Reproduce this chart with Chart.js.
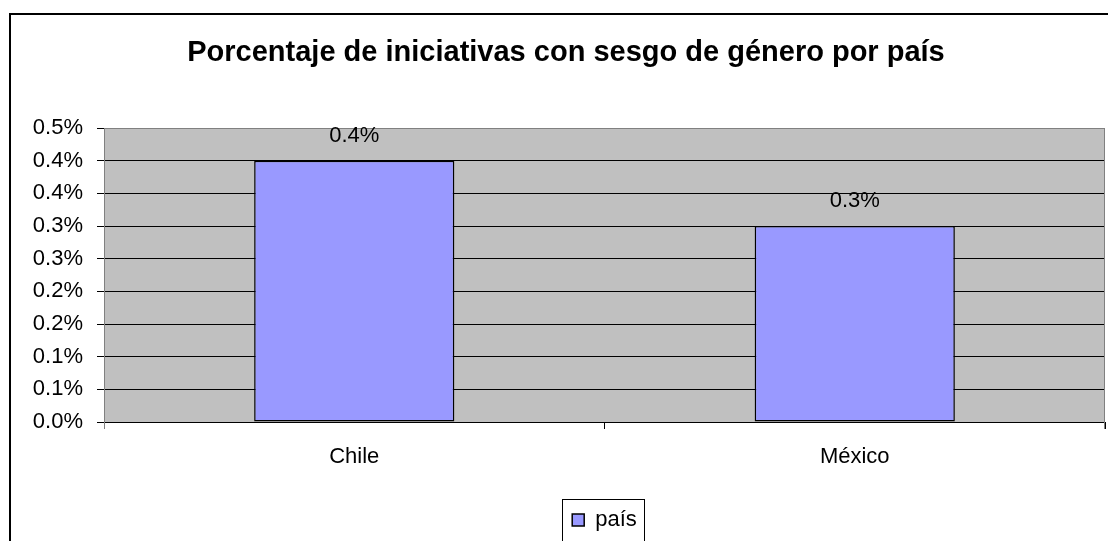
<!DOCTYPE html>
<html>
    <head>
        <meta charset="UTF-8" />
        <title>Porcentaje de iniciativas</title>
        <script src="https://cdn.jsdelivr.net/npm/chart.js@4.4.2/dist/chart.umd.min.js"></script>
        <style>
            body {
                margin: 0;
                background: #fff;
                overflow: hidden;
            }
        </style>
    </head>
    <body>
        <canvas id="barChart" width="1108" height="541"></canvas>

        <script>
            // --- data ---
            var categories = ["Chile", "México"];
            var seriesName = "país";
            var values = [0.4, 0.3]; // percent
            var yTickLabels = ["0.0%", "0.1%", "0.1%", "0.2%", "0.2%", "0.3%", "0.3%", "0.4%", "0.4%", "0.5%"];
            var yMax = 0.45;
            var yStep = 0.05;

            Chart.defaults.font.family = "'Liberation Sans', Arial, sans-serif";
            Chart.defaults.color = "#000";

            // grey plot background + outer frame
            var frame = {
                id: "frame",
                beforeDraw(chart) {
                    var ctx = chart.ctx;
                    var a = chart.chartArea;
                    ctx.save();
                    ctx.fillStyle = "#fff";
                    ctx.fillRect(0, 0, chart.width, chart.height);
                    ctx.fillStyle = "#c0c0c0";
                    ctx.fillRect(a.left, a.top, a.right - a.left, a.bottom - a.top);
                    ctx.restore();
                },
                afterDraw(chart) {
                    var ctx = chart.ctx;
                    var a = chart.chartArea;
                    ctx.save();
                    ctx.strokeStyle = "#808080";
                    ctx.lineWidth = 1;
                    ctx.beginPath();
                    ctx.moveTo(Math.round(a.left) + 0.5, a.top);
                    ctx.lineTo(Math.round(a.left) + 0.5, a.bottom + 7);
                    ctx.moveTo(Math.round(a.right) - 0.5, a.top);
                    ctx.lineTo(Math.round(a.right) - 0.5, a.bottom + 7);
                    ctx.stroke();

                    // legend border
                    var lg = chart.legend;
                    if (lg && lg.legendHitBoxes.length) {
                        var hb = lg.legendHitBoxes[0];
                        ctx.strokeStyle = "#000";
                        ctx.strokeRect(Math.round(hb.left - 10) + 0.5, Math.round(lg.top) + 0.5, Math.round(hb.width + 17), 60);
                    }

                    // chart outer border
                    ctx.strokeStyle = "#000";
                    ctx.lineWidth = 2;
                    ctx.strokeRect(10, 14, 2000, 2000);
                    ctx.restore();
                },
            };

            // value labels above the bars
            var valueLabels = {
                id: "valueLabels",
                afterDatasetsDraw(chart) {
                    var ctx = chart.ctx;
                    var meta = chart.getDatasetMeta(0);
                    ctx.save();
                    ctx.font = "22px 'Liberation Sans', Arial, sans-serif";
                    ctx.fillStyle = "#000";
                    ctx.textAlign = "center";
                    ctx.textBaseline = "middle";
                    meta.data.forEach(function (bar, i) {
                        ctx.fillText(values[i].toFixed(1) + "%", bar.x, bar.y - 25);
                    });
                    ctx.restore();
                },
            };

            var ctx = document.getElementById("barChart").getContext("2d");
            var barChart = new Chart(ctx, {
                type: "bar",
                plugins: [frame, valueLabels],
                data: {
                    labels: categories,
                    datasets: [
                        {
                            label: seriesName,
                            data: values,
                            backgroundColor: "#9999ff",
                            borderColor: "#000",
                            borderWidth: 1.5,
                            borderSkipped: false,
                            categoryPercentage: 1,
                            barPercentage: 0.4,
                        },
                    ],
                },
                options: {
                    responsive: false,
                    animation: false,
                    layout: {
                        padding: { top: 0, left: 27, right: 3, bottom: 0 },
                    },
                    plugins: {
                        title: {
                            display: true,
                            text: "Porcentaje de iniciativas con sesgo de género por país",
                            font: { size: 29, weight: "bold" },
                            color: "#000",
                            padding: { top: 36, bottom: 57.2 },
                        },
                        legend: {
                            position: "bottom",
                            fullSize: false,
                            labels: {
                                boxWidth: 12,
                                boxHeight: 12,
                                padding: 10,
                                font: { size: 22 },
                                color: "#000",
                            },
                        },
                        tooltip: { enabled: false },
                    },
                    scales: {
                        x: {
                            afterFit: function (scale) {
                                scale.height = 77;
                            },
                            grid: {
                                display: true,
                                drawOnChartArea: false,
                                offset: true,
                                tickLength: 7,
                                color: "#000",
                            },
                            border: { display: true, color: "#000" },
                            ticks: {
                                font: { size: 22 },
                                padding: 15,
                                color: "#000",
                            },
                        },
                        y: {
                            min: 0,
                            max: yMax,
                            afterFit: function (scale) {
                                scale.width = 77;
                            },
                            grid: {
                                tickLength: 7,
                                color: function (c) {
                                    return c.index === yTickLabels.length - 1 ? "#808080" : "#000";
                                },
                                tickColor: "#000",
                            },
                            border: { display: true, color: "#808080" },
                            ticks: {
                                stepSize: yStep,
                                padding: 14,
                                font: { size: 22 },
                                color: "#000",
                                callback: function (value, index) {
                                    return yTickLabels[index];
                                },
                            },
                        },
                    },
                },
            });
        </script>
    </body>
</html>
